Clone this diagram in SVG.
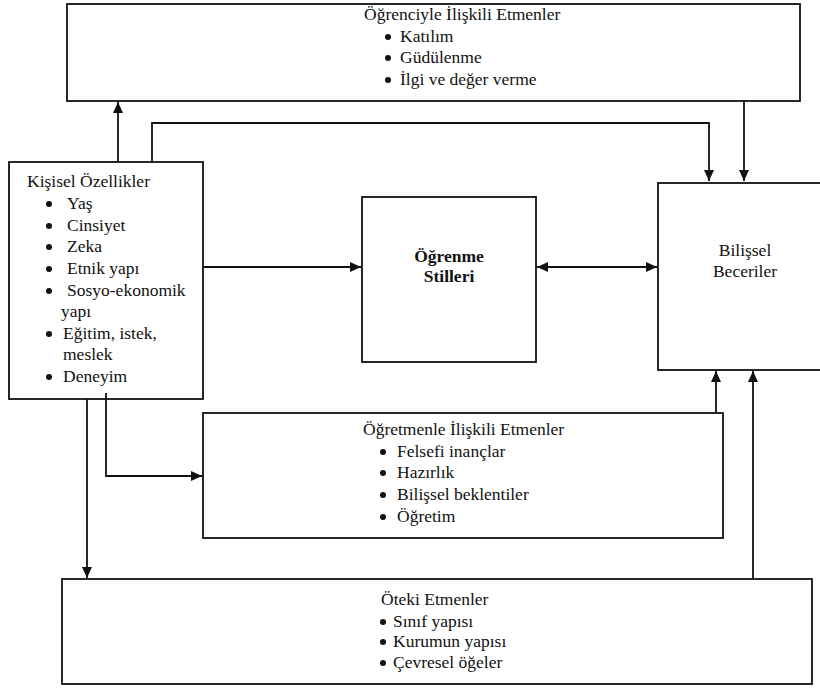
<svg xmlns="http://www.w3.org/2000/svg" width="820" height="688" viewBox="0 0 820 688">
<style>
  .box{fill:#fff;stroke:#111;stroke-width:1.8}
  .t{font-family:'Liberation Serif','Times New Roman',serif;font-size:17.5px;fill:#111}
  .b{font-weight:bold}
  .c{stroke:#111;stroke-width:1.8;fill:none}
  .dot{fill:#111}
</style>
<defs>
  <marker id="ah" markerUnits="userSpaceOnUse" markerWidth="12" markerHeight="10" refX="11" refY="5" orient="auto-start-reverse">
    <path d="M0,0 L11,5 L0,10 z" fill="#111"/>
  </marker>
</defs>
<rect width="820" height="688" fill="#fff"/>

<g id="ogrenci">
  <rect class="box" x="67" y="4" width="733" height="97"/>
  <text class="t" x="364" y="20">Öğrenciyle İlişkili Etmenler</text>
  <circle class="dot" cx="388" cy="37" r="3"/><text class="t" x="400" y="42">Katılım</text>
  <circle class="dot" cx="388" cy="58" r="3"/><text class="t" x="400" y="63">Güdülenme</text>
  <circle class="dot" cx="388" cy="80" r="3"/><text class="t" x="400" y="85">İlgi ve değer verme</text>
</g>

<g id="kisisel">
  <rect class="box" x="9" y="162" width="194" height="237"/>
  <text class="t" x="27" y="187">Kişisel Özellikler</text>
  <circle class="dot" cx="49" cy="204" r="3"/><text class="t" x="67" y="209">Yaş</text>
  <circle class="dot" cx="49" cy="226" r="3"/><text class="t" x="67" y="231">Cinsiyet</text>
  <circle class="dot" cx="49" cy="247" r="3"/><text class="t" x="67" y="252">Zeka</text>
  <circle class="dot" cx="49" cy="269" r="3"/><text class="t" x="67" y="274">Etnik yapı</text>
  <circle class="dot" cx="49" cy="291" r="3"/><text class="t" x="67" y="296">Sosyo-ekonomik</text>
  <text class="t" x="61" y="317">yapı</text>
  <circle class="dot" cx="49" cy="334" r="3"/><text class="t" x="63" y="339">Eğitim, istek,</text>
  <text class="t" x="63" y="360">meslek</text>
  <circle class="dot" cx="49" cy="377" r="3"/><text class="t" x="63" y="382">Deneyim</text>
</g>

<g id="stiller">
  <rect class="box" x="362" y="197" width="174" height="165"/>
  <text class="t b" x="449" y="262" text-anchor="middle">Öğrenme</text>
  <text class="t b" x="449" y="282" text-anchor="middle">Stilleri</text>
</g>

<g id="beceriler">
  <rect class="box" x="658" y="183" width="172" height="187"/>
  <text class="t" x="745" y="256" text-anchor="middle">Bilişsel</text>
  <text class="t" x="745" y="277" text-anchor="middle">Beceriler</text>
</g>

<g id="ogretmen">
  <rect class="box" x="203" y="413" width="520" height="125"/>
  <text class="t" x="363" y="435">Öğretmenle İlişkili Etmenler</text>
  <circle class="dot" cx="383" cy="452" r="3"/><text class="t" x="397" y="457">Felsefi inançlar</text>
  <circle class="dot" cx="383" cy="473" r="3"/><text class="t" x="397" y="478">Hazırlık</text>
  <circle class="dot" cx="383" cy="495" r="3"/><text class="t" x="397" y="500">Bilişsel beklentiler</text>
  <circle class="dot" cx="383" cy="517" r="3"/><text class="t" x="397" y="522">Öğretim</text>
</g>

<g id="oteki">
  <rect class="box" x="62" y="579" width="750" height="105"/>
  <text class="t" x="381" y="605">Öteki Etmenler</text>
  <circle class="dot" cx="383" cy="622" r="3"/><text class="t" x="393" y="627">Sınıf yapısı</text>
  <circle class="dot" cx="383" cy="642" r="3"/><text class="t" x="393" y="647">Kurumun yapısı</text>
  <circle class="dot" cx="383" cy="663" r="3"/><text class="t" x="393" y="668">Çevresel öğeler</text>
</g>

<g id="connectors">
  <path class="c" d="M118,162 L118,102" marker-end="url(#ah)"/>
  <path class="c" d="M152,162 L152,123 L709,123 L709,181" marker-end="url(#ah)"/>
  <path class="c" d="M744,101 L744,181" marker-end="url(#ah)"/>
  <path class="c" d="M203,267 L361,267" marker-end="url(#ah)"/>
  <path class="c" d="M537,267 L657,267" marker-start="url(#ah)" marker-end="url(#ah)"/>
  <path class="c" d="M716,413 L716,371" marker-end="url(#ah)"/>
  <path class="c" d="M753,579 L753,371" marker-end="url(#ah)"/>
  <path class="c" d="M106,393 L106,476 L202,476" marker-end="url(#ah)"/>
  <path class="c" d="M87,399 L87,578" marker-end="url(#ah)"/>
</g>
</svg>
